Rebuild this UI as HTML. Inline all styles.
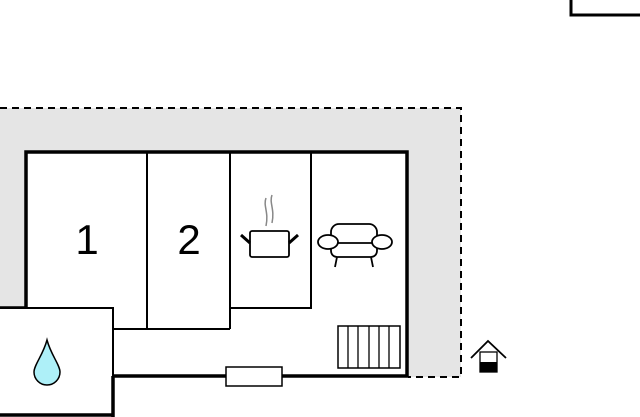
<!DOCTYPE html><html><head><style>body{margin:0;background:#fff}svg{display:block}</style></head><body>
<svg width="640" height="417" viewBox="0 0 640 417" xmlns="http://www.w3.org/2000/svg">
<rect x="571" y="-5" width="80" height="20" fill="none" stroke="#000" stroke-width="3"/>
<rect x="0" y="108" width="461" height="269" fill="#e5e5e5"/>
<path d="M0 108H461V377H408" fill="none" stroke="#000" stroke-width="2" stroke-dasharray="7,5"/>
<rect x="26" y="152" width="381" height="224" fill="#fff"/>
<path d="M0 308H26V152H407V376H113" fill="none" stroke="#000" stroke-width="3.5"/>
<path d="M147 152V329M230 152V329M113 329H230M311 152V308H230" fill="none" stroke="#000" stroke-width="2"/>
<rect x="-2" y="308" width="115" height="107" fill="#fff" stroke="#000" stroke-width="2"/>
<path d="M113 376V417M0 415H113" stroke="#000" stroke-width="3.5"/>
<rect x="226" y="367" width="56" height="19" fill="#fff" stroke="#000" stroke-width="1.5"/>
<rect x="338" y="326" width="62" height="42" fill="#fff" stroke="#000" stroke-width="1.5"/>
<path d="M348 326V368M358 326V368M369 326V368M379 326V368M389 326V368" stroke="#000" stroke-width="1.3"/>
<text x="87" y="254" font-family="Liberation Sans, sans-serif" font-size="42" text-anchor="middle">1</text>
<text x="189" y="254" font-family="Liberation Sans, sans-serif" font-size="42" text-anchor="middle">2</text>
<path d="M266 198c-3 8 3 14 0 28M272 195c-3 8 3 14 0 28" fill="none" stroke="#888" stroke-width="1.5"/>
<rect x="250" y="231" width="39" height="26" rx="2" fill="#fff" stroke="#000" stroke-width="1.8"/>
<path d="M241 235l9 8M298 235l-9 8" stroke="#000" stroke-width="3"/>
<path d="M331 238v-6a8 8 0 0 1 8-8h30a8 8 0 0 1 8 8v6M331 244v7a6 6 0 0 0 6 6h34a6 6 0 0 0 6-6v-7M336 243h36M337 257l-2 10M371 257l2 10" fill="none" stroke="#000" stroke-width="1.8"/>
<ellipse cx="328" cy="242" rx="10" ry="7" fill="#fff" stroke="#000" stroke-width="1.8"/>
<ellipse cx="382" cy="242" rx="10" ry="7" fill="#fff" stroke="#000" stroke-width="1.8"/>
<path d="M47 340C43 355 34 365 34 372a13 13 0 0 0 26 0C60 365 51 355 47 340Z" fill="#aef0f8" stroke="#000" stroke-width="1.5"/>
<path d="M471 358L488 341L506 358" fill="none" stroke="#000" stroke-width="1.8"/>
<rect x="480" y="352" width="17" height="20" fill="#fff" stroke="#000" stroke-width="1.3"/>
<rect x="480" y="362" width="17" height="10" fill="#000"/>
</svg></body></html>
